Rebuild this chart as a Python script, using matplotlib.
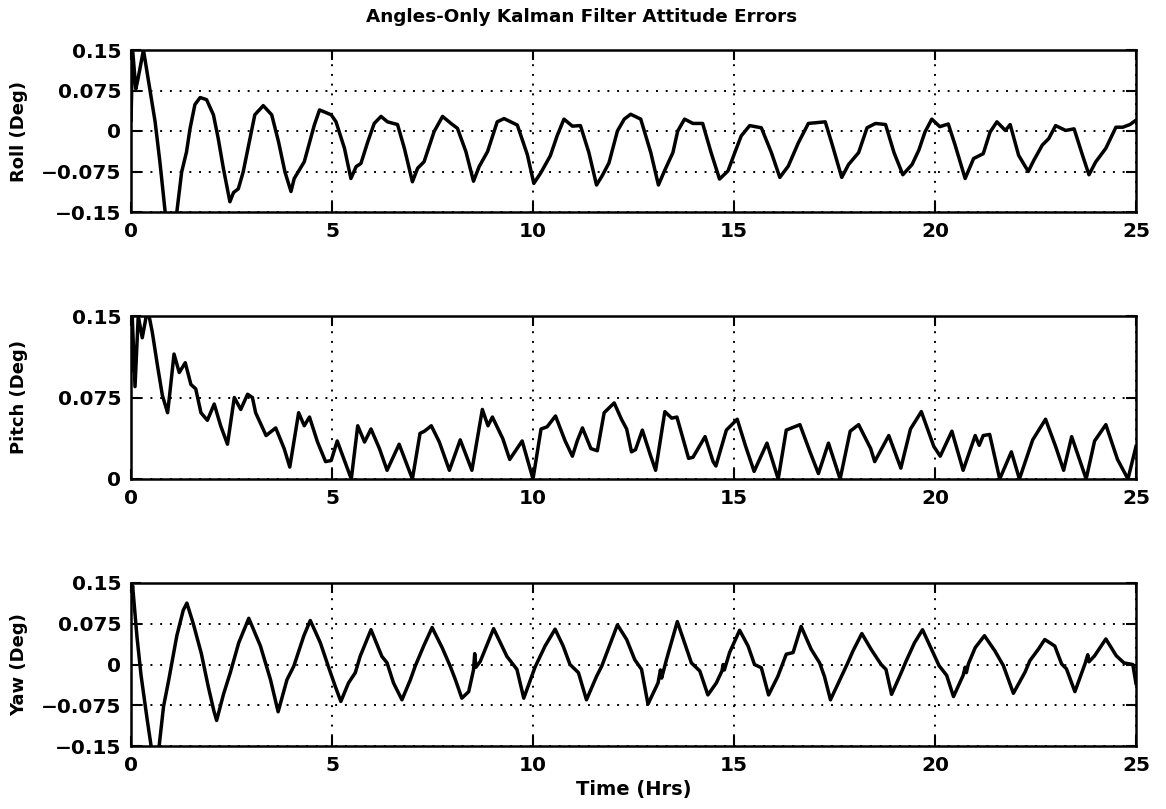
import matplotlib
matplotlib.use("Agg")
import matplotlib.pyplot as plt
import numpy as np

# ---------------- data ----------------
roll_t = [0.00, 0.04, 0.12, 0.17, 0.31, 0.45, 0.60, 0.72, 0.85, 1.00, 1.14, 1.26, 1.38, 1.47,
          1.59, 1.72, 1.88, 2.05, 2.17, 2.30, 2.46, 2.55, 2.67, 2.79, 2.96, 3.08, 3.29, 3.50,
          3.67, 3.83, 3.98, 4.06, 4.31, 4.56, 4.69, 4.98, 5.10, 5.31, 5.47, 5.60, 5.72, 5.89,
          6.05, 6.22, 6.38, 6.63, 6.80, 7.00, 7.13, 7.29, 7.54, 7.75, 7.96, 8.12, 8.33, 8.52,
          8.66, 8.87, 9.11, 9.28, 9.61, 9.86, 10.02, 10.19, 10.43, 10.60, 10.77, 10.98, 11.18,
          11.39, 11.58, 11.72, 11.89, 12.10, 12.27, 12.43, 12.68, 12.93, 13.12, 13.27, 13.48,
          13.60, 13.77, 13.98, 14.22, 14.43, 14.64, 14.85, 15.02, 15.18, 15.39, 15.68, 15.93,
          16.14, 16.35, 16.60, 16.85, 17.27, 17.43, 17.68, 17.85, 18.10, 18.31, 18.52, 18.77,
          18.98, 19.20, 19.43, 19.60, 19.75, 19.92, 20.12, 20.33, 20.50, 20.75, 20.96, 21.20,
          21.37, 21.54, 21.75, 21.87, 22.08, 22.32, 22.46, 22.67, 22.83, 23.00, 23.25, 23.46,
          23.67, 23.83, 24.00, 24.25, 24.50, 24.67, 24.85, 25.00]
roll_deg = [0.020, 0.150, 0.078, 0.095, 0.150, 0.086, 0.017, -0.058, -0.150, -0.175, -0.150,
            -0.076, -0.039, 0.005, 0.049, 0.062, 0.058, 0.030, -0.014, -0.070, -0.131, -0.114,
            -0.107, -0.076, -0.014, 0.030, 0.047, 0.030, -0.020, -0.076, -0.112, -0.088, -0.057,
            0.011, 0.039, 0.030, 0.017, -0.032, -0.088, -0.066, -0.060, -0.020, 0.014, 0.027,
            0.017, 0.012, -0.032, -0.094, -0.069, -0.057, -0.001, 0.027, 0.014, 0.005, -0.038,
            -0.093, -0.066, -0.038, 0.017, 0.023, 0.011, -0.044, -0.097, -0.078, -0.046, -0.009,
            0.022, 0.009, 0.010, -0.040, -0.100, -0.083, -0.059, 0.000, 0.022, 0.031, 0.022,
            -0.040, -0.100, -0.074, -0.040, 0.000, 0.022, 0.014, 0.014, -0.040, -0.089, -0.074,
            -0.040, -0.009, 0.010, 0.006, -0.040, -0.086, -0.065, -0.022, 0.014, 0.017, -0.022,
            -0.086, -0.062, -0.040, 0.006, 0.014, 0.012, -0.040, -0.081, -0.062, -0.035, -0.002,
            0.022, 0.008, 0.013, -0.026, -0.088, -0.051, -0.042, -0.002, 0.017, 0.001, 0.012,
            -0.045, -0.075, -0.054, -0.026, -0.014, 0.010, 0.001, 0.004, -0.045, -0.081, -0.057,
            -0.032, 0.007, 0.007, 0.012, 0.020]

pitch_t = [0.00, 0.03, 0.10, 0.18, 0.28, 0.38, 0.45, 0.53, 0.66, 0.78, 0.91, 0.96, 1.07, 1.20,
           1.35, 1.49, 1.61, 1.74, 1.90, 2.07, 2.23, 2.40, 2.57, 2.73, 2.90, 3.02, 3.10, 3.36,
           3.60, 3.81, 3.95, 4.17, 4.31, 4.44, 4.64, 4.84, 4.98, 5.13, 5.48, 5.64, 5.81, 5.97,
           6.18, 6.37, 6.67, 7.00, 7.19, 7.30, 7.47, 7.67, 7.92, 8.19, 8.48, 8.74, 8.88, 8.99,
           9.25, 9.42, 9.73, 10.00, 10.20, 10.35, 10.56, 10.80, 10.98, 11.10, 11.23, 11.44,
           11.60, 11.77, 12.02, 12.20, 12.33, 12.45, 12.55, 12.72, 12.92, 13.05, 13.28, 13.45,
           13.58, 13.87, 13.98, 14.28, 14.48, 14.55, 14.81, 15.08, 15.29, 15.50, 15.82, 16.10,
           16.30, 16.64, 16.89, 17.10, 17.35, 17.64, 17.89, 18.10, 18.40, 18.50, 18.85, 19.15,
           19.39, 19.66, 19.97, 20.13, 20.42, 20.70, 21.00, 21.10, 21.20, 21.36, 21.61, 21.90,
           22.10, 22.43, 22.75, 23.00, 23.20, 23.40, 23.76, 23.97, 24.25, 24.54, 24.80, 25.00]
pitch_deg = [0.100, 0.150, 0.085, 0.150, 0.130, 0.150, 0.150, 0.135, 0.104, 0.077, 0.061, 0.077,
             0.115, 0.098, 0.107, 0.087, 0.083, 0.061, 0.054, 0.069, 0.049, 0.032, 0.075, 0.064,
             0.078, 0.075, 0.061, 0.040, 0.047, 0.028, 0.011, 0.061, 0.049, 0.057, 0.034, 0.016,
             0.017, 0.035, 0.000, 0.049, 0.034, 0.046, 0.028, 0.008, 0.032, 0.000, 0.042, 0.044,
             0.049, 0.034, 0.008, 0.036, 0.008, 0.064, 0.049, 0.057, 0.037, 0.018, 0.035, 0.000,
             0.046, 0.048, 0.058, 0.035, 0.021, 0.035, 0.047, 0.028, 0.026, 0.061, 0.070, 0.055,
             0.046, 0.025, 0.027, 0.045, 0.022, 0.008, 0.062, 0.056, 0.057, 0.019, 0.020, 0.039,
             0.016, 0.012, 0.045, 0.055, 0.030, 0.007, 0.033, 0.000, 0.045, 0.050, 0.025, 0.005,
             0.033, 0.000, 0.044, 0.050, 0.028, 0.016, 0.040, 0.010, 0.046, 0.062, 0.030, 0.021,
             0.044, 0.008, 0.040, 0.031, 0.040, 0.041, 0.000, 0.025, 0.000, 0.036, 0.055, 0.030,
             0.008, 0.039, 0.000, 0.035, 0.050, 0.018, 0.000, 0.030]

yaw_t = [0.00, 0.04, 0.15, 0.25, 0.40, 0.50, 0.60, 0.70, 0.81, 0.94, 1.14, 1.30, 1.39, 1.55,
         1.75, 1.92, 2.06, 2.13, 2.30, 2.47, 2.68, 2.93, 3.22, 3.47, 3.66, 3.88, 4.05, 4.30,
         4.46, 4.71, 4.92, 5.08, 5.22, 5.41, 5.58, 5.70, 5.97, 6.24, 6.37, 6.53, 6.74, 6.95,
         7.07, 7.28, 7.49, 7.74, 7.94, 8.07, 8.23, 8.40, 8.52, 8.55, 8.58, 8.69, 9.02, 9.35,
         9.60, 9.77, 10.05, 10.30, 10.55, 10.75, 10.92, 11.13, 11.33, 11.58, 11.71, 11.87,
         12.10, 12.33, 12.53, 12.70, 12.86, 13.11, 13.17, 13.20, 13.32, 13.44, 13.59, 13.77,
         13.94, 14.15, 14.35, 14.56, 14.70, 14.73, 14.76, 14.89, 15.14, 15.35, 15.51, 15.68,
         15.86, 16.09, 16.30, 16.47, 16.67, 16.92, 17.13, 17.25, 17.40, 17.67, 17.83, 17.96,
         18.18, 18.41, 18.66, 18.78, 18.92, 19.16, 19.28, 19.49, 19.69, 19.90, 20.10, 20.29,
         20.46, 20.70, 20.75, 20.78, 20.83, 21.00, 21.23, 21.49, 21.70, 21.95, 22.24, 22.36,
         22.57, 22.73, 22.98, 23.15, 23.27, 23.48, 23.73, 23.80, 23.83, 23.97, 24.25, 24.51,
         24.70, 24.92, 25.00]
yaw_deg = [0.120, 0.145, 0.050, -0.020, -0.100, -0.150, -0.170, -0.150, -0.077, -0.028, 0.053,
           0.100, 0.113, 0.075, 0.020, -0.040, -0.085, -0.103, -0.055, -0.015, 0.040, 0.085,
           0.034, -0.028, -0.087, -0.028, -0.003, 0.053, 0.081, 0.040, -0.006, -0.040, -0.068,
           -0.034, -0.015, 0.015, 0.064, 0.015, 0.003, -0.034, -0.065, -0.028, -0.003, 0.034,
           0.068, 0.031, -0.003, -0.028, -0.062, -0.050, -0.010, 0.020, -0.005, 0.006, 0.066,
           0.015, -0.009, -0.062, -0.005, 0.034, 0.065, 0.034, 0.000, -0.015, -0.065, -0.022,
           -0.003, 0.028, 0.073, 0.046, 0.009, -0.009, -0.073, -0.034, -0.010, -0.025, 0.009,
           0.040, 0.079, 0.040, 0.003, -0.012, -0.056, -0.034, -0.012, 0.000, -0.010, 0.022,
           0.063, 0.034, 0.000, -0.006, -0.056, -0.022, 0.019, 0.022, 0.070, 0.028, 0.003,
           -0.022, -0.065, -0.022, 0.003, 0.025, 0.057, 0.028, 0.000, -0.009, -0.055, -0.015,
           0.006, 0.040, 0.064, 0.030, -0.002, -0.020, -0.059, -0.020, -0.005, -0.015, 0.001,
           0.031, 0.053, 0.025, -0.002, -0.053, -0.014, 0.007, 0.028, 0.046, 0.034, 0.001,
           -0.008, -0.050, 0.001, 0.018, 0.005, 0.016, 0.047, 0.016, 0.003, 0.000, -0.035]

x_ticks = [0, 5, 10, 15, 20, 25]
x_ticklabels = ["0", "5", "10", "15", "20", "25"]
sym_ticks = [-0.15, -0.075, 0, 0.075, 0.15]
sym_ticklabels = ["\u22120.15", "\u22120.075", "0", "0.075", "0.15"]
pitch_ticks = [0, 0.075, 0.15]
pitch_ticklabels = ["0", "0.075", "0.15"]

title_text = "Angles-Only Kalman Filter Attitude Errors"
xlabel_text = "Time (Hrs)"
ylabels = ["Roll (Deg)", "Pitch (Deg)", "Yaw (Deg)"]

# ---------------- figure ----------------
W, H = 1166, 809
fig = plt.figure(figsize=(W / 100, H / 100), dpi=100)
FONT = "DejaVu Sans"

left = 131 / W
width = 1005 / W
rows = [(50, 212), (316, 479), (583, 746)]

panels = [
    (roll_t, roll_deg, (-0.15, 0.15), sym_ticks, sym_ticklabels),
    (pitch_t, pitch_deg, (0, 0.15), pitch_ticks, pitch_ticklabels),
    (yaw_t, yaw_deg, (-0.15, 0.15), sym_ticks, sym_ticklabels),
]

axes = []
for (top, bot), (t, v, ylim, yt, ytl), yl in zip(rows, panels, ylabels):
    ax = fig.add_axes([left, 1 - bot / H, width, (bot - top) / H])
    ax.plot(t, v, color="black", lw=2.5, solid_joinstyle="round", zorder=3)
    ax.set_xlim(0, 25)
    ax.set_ylim(*ylim)
    ax.set_xticks(x_ticks)
    ax.set_xticklabels(x_ticklabels)
    ax.set_yticks(yt)
    ax.set_yticklabels(ytl)
    ax.tick_params(direction="in", length=7, width=1.5, top=True, right=True,
                   labelsize=14.5, pad=7)
    for lab in ax.get_xticklabels() + ax.get_yticklabels():
        lab.set_fontweight("bold")
        lab.set_fontfamily(FONT)
    ax.grid(True, color="black", linestyle=(0, (1, 4)), lw=1.4)
    for s in ax.spines.values():
        s.set_linewidth(1.8)
    cy = 1 - (top + bot) / 2 / H
    fig.text(19 / W, cy, yl, rotation=90, ha="center", va="center",
             fontsize=13, fontweight="bold", family=FONT)
    axes.append(ax)

fig.text(582 / W, 1 - 17 / H, title_text, ha="center", va="center",
         fontsize=13.2, fontweight="bold", family=FONT)
fig.text(left + width / 2, 1 - 790 / H, xlabel_text, ha="center", va="center",
         fontsize=14, fontweight="bold", family=FONT)

fig.savefig("out.png", dpi=100, facecolor="white")
